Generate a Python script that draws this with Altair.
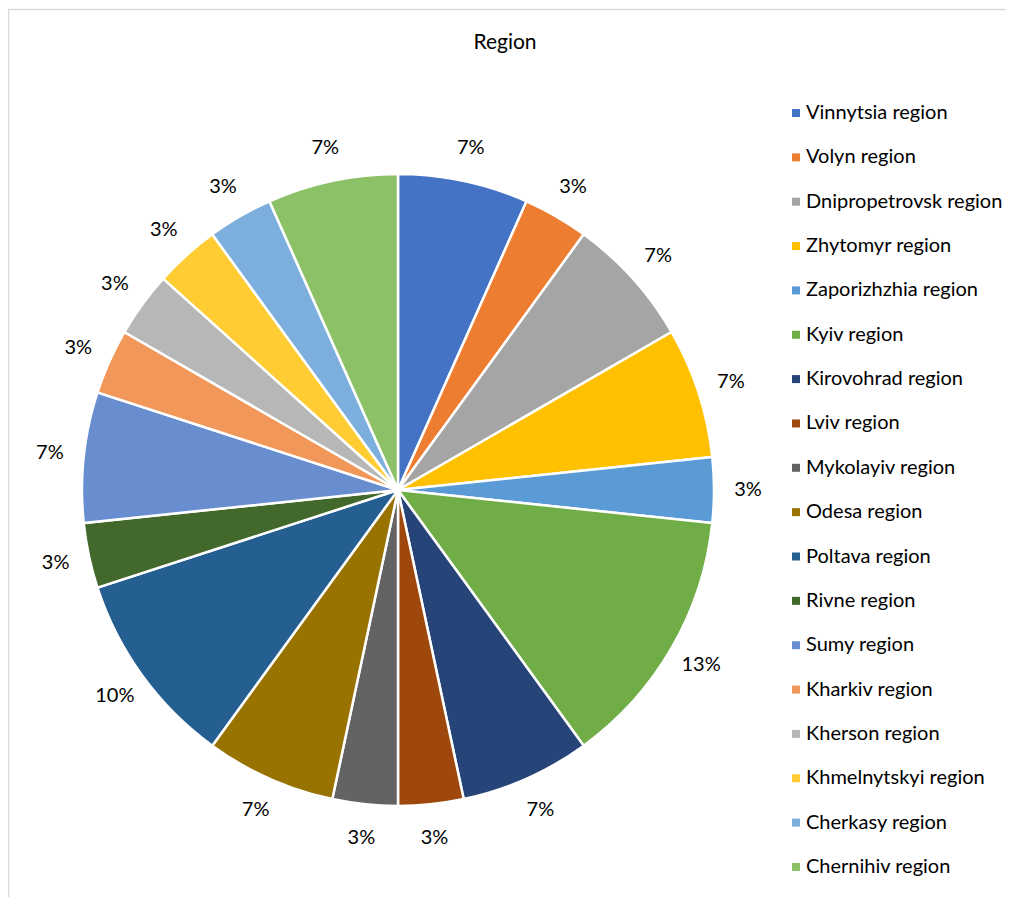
import altair as alt
import pandas as pd

regions = [
    "Vinnytsia region", "Volyn region", "Dnipropetrovsk region", "Zhytomyr region",
    "Zaporizhzhia region", "Kyiv region", "Kirovohrad region", "Lviv region",
    "Mykolayiv region", "Odesa region", "Poltava region", "Rivne region",
    "Sumy region", "Kharkiv region", "Kherson region", "Khmelnytskyi region",
    "Cherkasy region", "Chernihiv region",
]
counts = [2, 1, 2, 2, 1, 4, 2, 1, 1, 2, 3, 1, 2, 1, 1, 1, 1, 2]
colors = [
    "#4472C4", "#ED7D31", "#A5A5A5", "#FFC000", "#5B9BD5", "#70AD47",
    "#264478", "#9E480E", "#636363", "#997300", "#255E91", "#43682B",
    "#698ED0", "#F1975A", "#B7B7B7", "#FFCD33", "#7CAFDD", "#8CC168",
]

total = sum(counts)
df = pd.DataFrame({
    "region": regions,
    "count": counts,
    "idx": list(range(len(regions))),
    "pct": [f"{round(c / total * 100)}%" for c in counts],
})

FONT = "Lato"
W, H = 998, 889
CX, CY = 390, 482
R = 316

base = alt.Chart(df).encode(
    theta=alt.Theta("count:Q", stack=True),
    order=alt.Order("idx:Q", sort="ascending"),
)

pie = base.mark_arc(outerRadius=R, stroke="white", strokeWidth=2.5).encode(
    x=alt.value(CX),
    y=alt.value(CY),
    color=alt.Color(
        "region:N",
        scale=alt.Scale(domain=regions, range=colors),
        sort=regions,
        legend=alt.Legend(
            title=None,
            orient="none",
            legendX=778,
            legendY=95,
            symbolType="square",
            symbolSize=64,
            symbolStrokeWidth=0,
            labelFontSize=20,
            labelFont=FONT,
            labelColor="#000000",
            labelLimit=320,
            labelOffset=0,
            rowPadding=24.35,
            padding=0,
        ),
    ),
)

labels = base.mark_text(radius=350, fontSize=20, font=FONT, color="#000000").encode(
    x=alt.value(CX),
    y=alt.value(CY),
    text="pct:N",
)

title_df = pd.DataFrame({"t": ["Region"]})
title = alt.Chart(title_df).mark_text(fontSize=21, font=FONT, color="#000000").encode(
    x=alt.value(497), y=alt.value(35), text="t:N"
)

border_df = pd.DataFrame({"a": [0]})
left_border = alt.Chart(border_df).mark_rule(color="#D9D9D9", strokeWidth=1.5).encode(
    x=alt.value(0.5), y=alt.value(1), y2=alt.value(H)
)
top_border = alt.Chart(border_df).mark_rule(color="#D9D9D9", strokeWidth=1.5).encode(
    x=alt.value(0), x2=alt.value(W), y=alt.value(1.5)
)

chart = alt.layer(left_border, top_border, pie, labels, title).properties(
    width=W, height=H, padding=0, autosize=alt.AutoSizeParams(type="none")
).configure_view(stroke=None)

chart.save("out.html", embed_options={"renderer": "svg", "actions": False})
